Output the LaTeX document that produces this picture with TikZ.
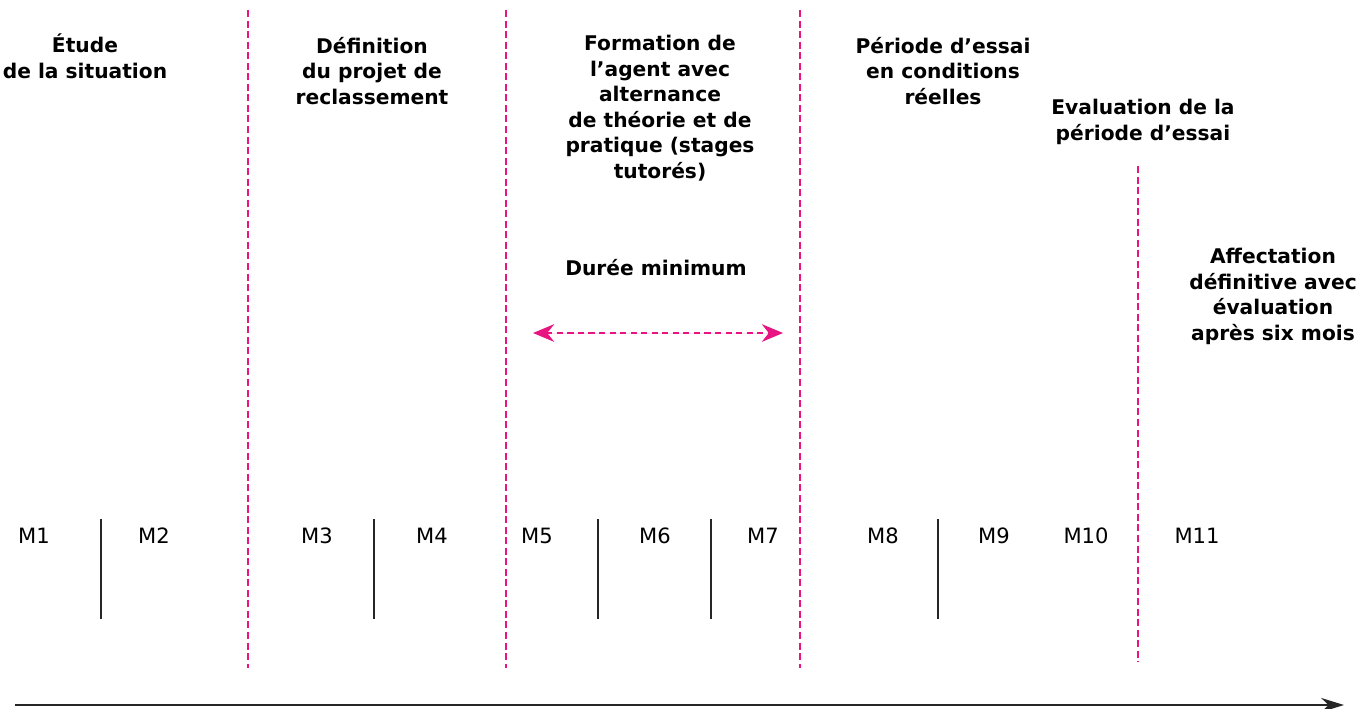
\documentclass[tikz,border=0pt]{standalone}
\usepackage{fontspec}
\setmainfont{DejaVu Sans}
\usetikzlibrary{arrows.meta,positioning}
\tikzset{
  >=Stealth,
  every picture/.append style={line width=1.4pt},
}
\tikzset{
  phase/.style={font=\bfseries\fontsize{11.5}{14.5}\selectfont, align=center, anchor=base, inner sep=0pt},
  month/.style={font=\fontsize{12}{14}\selectfont, anchor=base, inner sep=0pt},
  phaseline/.style={draw=pinkline, dash pattern=on 4pt off 2pt},
  monthtick/.style={draw=black!85},
  mindur/.style={{Stealth[length=12pt,width=10pt]}-{Stealth[length=12pt,width=10pt]}, draw=pinkline, fill=pinkline, dash pattern=on 3.5pt off 2.5pt},
  timeline/.style={-{Stealth[length=13pt,width=8pt]}, draw=black!85}
}

\begin{document}
\begin{tikzpicture}[x=0.02cm,y=-0.02cm]
% Color definitions
\definecolor{pinkline}{RGB}{232,20,130}

\useasboundingbox (0,0) rectangle (1372,708);

% Phases (anchored at the baseline of their last line)
\node[phase] (etude) at (85,78) {Étude\\de la situation};
\node[phase] (definition) at (372,104) {Définition\\du projet de\\reclassement};
\node[phase] (formation) at (660,178) {Formation de\\l’agent avec\\alternance\\de théorie et de\\pratique (stages\\tutorés)};
\node[phase] (essai) at (943,104) {Période d’essai\\en conditions\\réelles};
\node[phase] (evalessai) at (1143,140) {Evaluation de la\\période d’essai};
\node[phase] (affect) at (1273,340) {Affectation\\définitive avec\\évaluation\\après six mois};
\node[phase] (duree) at (656,275) {Durée minimum};

% Months
\foreach \i/\x in {1/34,2/154,3/317,4/432,5/537,6/655,7/763,8/883,9/994,10/1086,11/1197}
  \node[month] (m\i) at (\x,543) {M\i};

% Separators between phases
\foreach \n/\x/\ya/\yb in {a/248/10/668,b/506/10/668,c/800/10/668,d/1138/166/662} {
  \coordinate (sep\n top) at (\x,\ya);
  \coordinate (sep\n bot) at (\x,\yb);
  \draw[phaseline] (sep\n top) -- (sep\n bot);
}

% Month ticks
\foreach \n/\x in {a/101,b/374,c/598,d/711,e/938} {
  \coordinate (tick\n top) at (\x,519);
  \coordinate (tick\n bot) at (\x,619);
  \draw[monthtick] (tick\n top) -- (tick\n bot);
}

% Minimum duration
\coordinate (durL) at (533,333);
\coordinate (durR) at (783,333);
\draw[mindur] (durL) -- (durR);

% Time axis
\coordinate (axisL) at (15,705);
\coordinate (axisR) at (1344,705);
\draw[timeline] (axisL) -- (axisR);
\end{tikzpicture}
\end{document}
